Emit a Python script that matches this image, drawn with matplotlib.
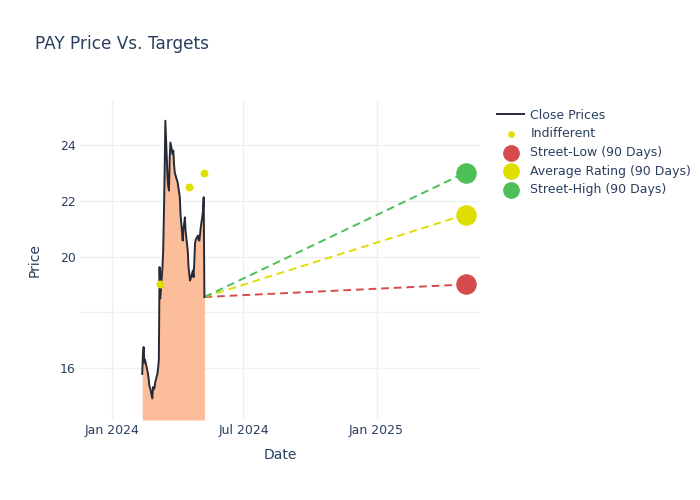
import pandas as pd
import matplotlib.pyplot as plt
import matplotlib.dates as mdates

# close prices for PAY
price_dates = [
    "2024-02-12", "2024-02-13", "2024-02-14", "2024-02-15", "2024-02-16",
    "2024-02-20", "2024-02-21", "2024-02-22", "2024-02-23",
    "2024-02-26", "2024-02-27", "2024-02-28", "2024-02-29", "2024-03-01",
    "2024-03-04", "2024-03-05", "2024-03-06", "2024-03-07", "2024-03-08",
    "2024-03-11", "2024-03-12", "2024-03-13", "2024-03-14", "2024-03-15",
    "2024-03-18", "2024-03-19", "2024-03-20", "2024-03-21", "2024-03-22",
    "2024-03-25", "2024-03-26", "2024-03-27", "2024-03-28",
    "2024-04-01", "2024-04-02", "2024-04-03", "2024-04-04", "2024-04-05",
    "2024-04-08", "2024-04-09", "2024-04-10", "2024-04-11", "2024-04-12",
    "2024-04-15", "2024-04-16", "2024-04-17", "2024-04-18", "2024-04-19",
    "2024-04-22", "2024-04-23", "2024-04-24", "2024-04-25", "2024-04-26",
    "2024-04-29", "2024-04-30", "2024-05-01", "2024-05-02", "2024-05-03",
    "2024-05-06", "2024-05-07", "2024-05-08",
]
close_prices = [
    15.8, 16.5, 16.76, 16.2, 16.3,
    15.8, 15.6, 15.35, 15.3,
    14.92, 15.33, 15.25, 15.29, 15.5,
    15.8, 16.0, 16.3, 19.62, 18.5,
    19.6, 20.2, 21.5, 23.0, 24.86,
    22.83, 22.5, 22.36, 23.5, 24.08,
    23.67, 23.79, 23.3, 23.0,
    22.65, 22.47, 22.3, 22.12, 21.5,
    20.57, 21.0, 21.18, 21.4, 20.9,
    20.2, 19.62, 19.4, 19.14, 19.2,
    19.5, 19.26, 19.8, 20.46, 20.6,
    20.75, 20.6, 20.57, 20.8, 21.05,
    21.6, 22.12, 18.55,
]

# analyst ratings marked "Indifferent"
indiff_dates = ["2024-03-07", "2024-04-17", "2024-05-08"]
indiff_prices = [19.0, 22.5, 23.0]

# 90 day price targets
target_date = "2025-05-04"
target_names = ["Street-Low (90 Days)", "Average Rating (90 Days)", "Street-High (90 Days)"]
target_values = [19.0, 21.5, 23.0]
target_colors = ["#d64b4b", "#dede00", "#4cbf56"]

price_dates = pd.to_datetime(price_dates)
indiff_dates = pd.to_datetime(indiff_dates)
target_date = pd.to_datetime(target_date)

text_col = "#2a3f5f"
plt.rcParams["font.family"] = ["DejaVu Sans"]

fig = plt.figure(figsize=(7, 5), dpi=100)
ax = fig.add_axes([80 / 700, 80 / 500, 400 / 700, 320 / 500])

y_bottom, y_top = 14.15, 25.6
ax.fill_between(price_dates, close_prices, y_bottom, color="#fcbe9a", lw=0, zorder=1)
ax.plot(price_dates, close_prices, color="#262a36", lw=1.4, label="Close Prices", zorder=3)
ax.scatter(indiff_dates, indiff_prices, s=22, color="#dede00", label="Indifferent", zorder=4)

last_date, last_price = price_dates[-1], close_prices[-1]
for name, val, col in zip(target_names, target_values, target_colors):
    ax.plot([last_date, target_date], [last_price, val], ls=(0, (4, 2.5)), color=col, lw=1.4, zorder=2)
    ax.scatter([target_date], [val], s=190, color=col, label=name, zorder=5)

ax.set_xlim(pd.Timestamp("2023-11-18"), pd.Timestamp("2025-05-24"))
ax.set_ylim(y_bottom, y_top)
ax.set_yticks([16, 18, 20, 22, 24])
ax.set_yticklabels(["16", "", "20", "22", "24"])
ax.xaxis.set_major_locator(mdates.MonthLocator(bymonth=[1, 7]))
ax.xaxis.set_major_formatter(mdates.DateFormatter("%b %Y"))

ax.grid(True, color="#eef0f4", lw=1)
ax.set_axisbelow(True)
for sp in ax.spines.values():
    sp.set_visible(False)
ax.tick_params(length=0, labelsize=9, labelcolor=text_col)
ax.tick_params(axis="x", pad=3)
ax.tick_params(axis="y", pad=3)

ax.set_xlabel("Date", fontsize=10, color=text_col, labelpad=8)
ax.set_ylabel("Price", fontsize=10, color=text_col, labelpad=13)
fig.text(35 / 700, 1 - 44 / 500, "PAY Price Vs. Targets", fontsize=12.2, color=text_col, va="center")

leg = ax.legend(loc="upper left", bbox_to_anchor=(1.02, 1.0), frameon=False, fontsize=9,
                labelcolor=text_col, handlelength=2.2, handletextpad=0.5, labelspacing=0.45,
                borderaxespad=0.3, markerscale=0.8)

plt.savefig("out.png", dpi=100)
